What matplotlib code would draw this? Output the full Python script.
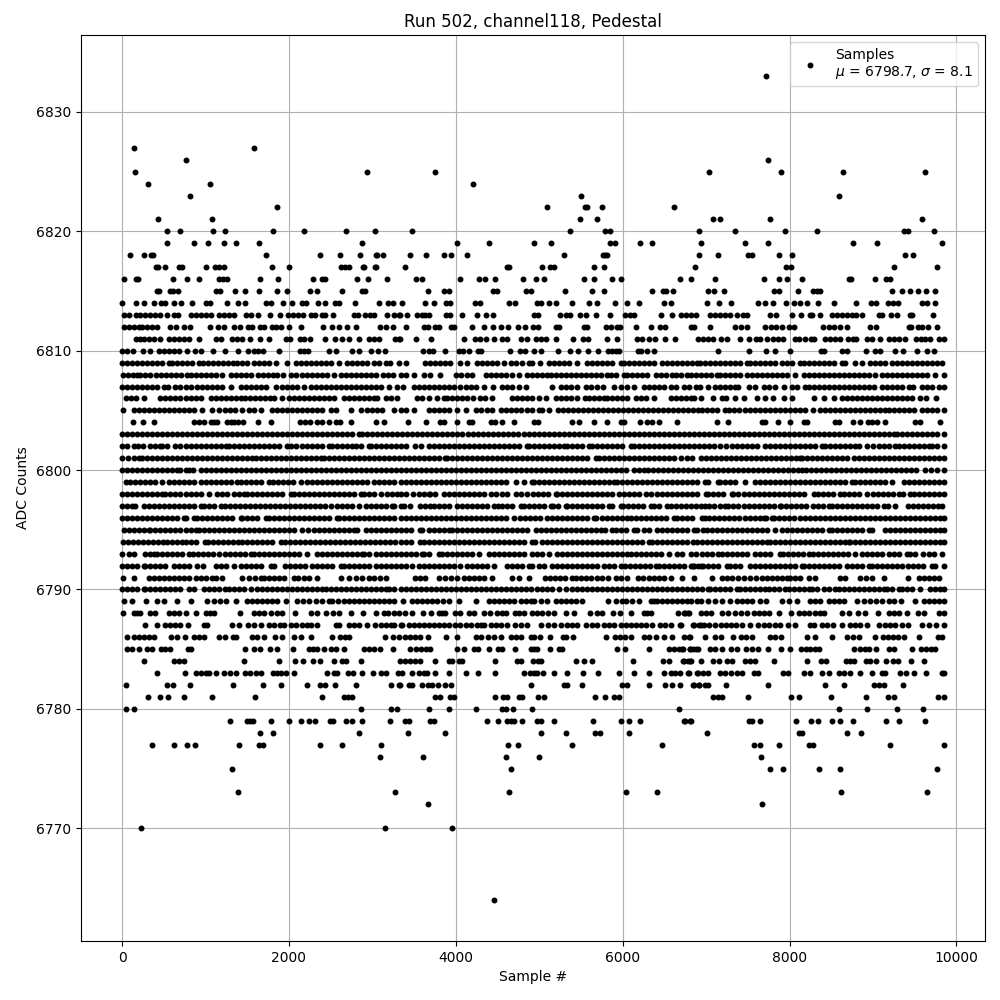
import matplotlib
matplotlib.use("Agg")
import matplotlib.pyplot as plt

# sample numbers, one list per ADC count
high_tail = {
    6833: [7712],
    6827: [140, 1580],
    6826: [764, 7736],
    6825: [152, 2936, 3748, 7040, 7892, 8636, 9620],
    6824: [308, 1052, 4204],
    6823: [812, 5500, 8588],
    6822: [1856, 5092, 5548, 5576, 5752, 6616],
    6821: [428, 1076, 5488, 5692, 7088, 7172, 7760, 9584],
    6820: [536, 692, 1088, 1232, 1808, 2180, 2684, 3032, 3472, 5368, 5788, 5848, 6916, 7352, 7940, 8324, 9368, 9416, 9728],
    6819: [536, 860, 1028, 1220, 1364, 1640, 2876, 4012, 4396, 4936, 5140, 5848, 5908, 6208, 6352, 6944, 7460, 7736, 8756, 9044, 9824],
    6818: [92, 260, 344, 368, 1724, 2372, 2612, 2852, 3044, 3056, 3128, 3448, 3640, 3856, 3940, 4132, 5296, 5764, 5788, 5812, 6916, 7148, 7496, 7544, 7868, 8024, 9380, 9476],
    6817: [404, 428, 512, 680, 716, 1004, 1112, 1160, 1220, 1796, 2000, 2624, 2672, 2720, 2888, 2900, 3032, 3044, 3388, 4612, 4636, 5032, 5128, 5176, 5656, 5776, 6868, 7952, 8012, 9248, 9764],
    6816: [20, 164, 188, 608, 776, 920, 1160, 1208, 1256, 1652, 1868, 2288, 2396, 2432, 2816, 2948, 3176, 3520, 3592, 4048, 4276, 4348, 4468, 4804, 4960, 5056, 5536, 5656, 5872, 5980, 6688, 6820, 7112, 7688, 7868, 7964, 8144, 8708, 8732, 9020, 9152, 9200],
    6815: [416, 440, 572, 608, 668, 1124, 1172, 1352, 1472, 1640, 1856, 1976, 2252, 2336, 2636, 2876, 2912, 3664, 3856, 3916, 4444, 4492, 4840, 4900, 5308, 5632, 5776, 6352, 6484, 6520, 6604, 7028, 7100, 7220, 7808, 7868, 8096, 8276, 8324, 8360, 9224, 9344, 9440, 9536, 9632, 9740],
    6814: [0, 164, 260, 380, 464, 512, 620, 704, 836, 1004, 1052, 1256, 1388, 1472, 1724, 1784, 1928, 2036, 2156, 2204, 2348, 2432, 2552, 2600, 2792, 3080, 3188, 3248, 3356, 3628, 3736, 3880, 3928, 4228, 4288, 4636, 4708, 4972, 5020, 5116, 5200, 5392, 5596, 5692, 5908, 6052, 6196, 6496, 6580, 7016, 7160, 7304, 7616, 7700, 7796, 7952, 8048, 8120, 8204, 8336, 8528, 8792, 8972, 9032, 9176, 9236, 9296, 9584, 9644, 9740],
    6813: [20, 80, 164, 220, 280, 340, 400, 460, 536, 620, 668, 824, 880, 940, 1000, 1060, 1160, 1220, 1280, 1340, 1484, 1544, 1628, 1772, 1892, 1988, 2048, 2108, 2168, 2264, 2312, 2396, 2432, 2528, 2780, 2828, 2912, 2972, 3020, 3176, 3260, 3320, 3336, 3416, 3532, 3596, 3636, 3676, 3880, 3928, 4072, 4252, 4360, 4444, 4936, 4984, 5248, 5320, 5368, 5488, 5560, 5680, 5848, 6028, 6088, 6136, 6460, 6592, 6700, 6760, 6820, 6880, 7048, 7108, 7168, 7228, 7288, 7376, 7436, 7488, 7760, 7832, 8024, 8132, 8240, 8264, 8360, 8504, 8564, 8624, 8684, 8744, 8792, 8864, 9068, 9104, 9212, 9284, 9440, 9464, 9716],
    6812: [20, 80, 140, 200, 240, 300, 360, 416, 572, 644, 740, 812, 1052, 1148, 1220, 1340, 1412, 1508, 1556, 1652, 1700, 1796, 1844, 1904, 2000, 2144, 2408, 2516, 2600, 2700, 2804, 3092, 3164, 3248, 3400, 3616, 3664, 3748, 3796, 3940, 3976, 4192, 4336, 4444, 4536, 4624, 4744, 4828, 4924, 4984, 5200, 5236, 5536, 5572, 5800, 5860, 5932, 5968, 6160, 6340, 6448, 6508, 6820, 6856, 7052, 7352, 7424, 7484, 7700, 7772, 7832, 7904, 7988, 8048, 8396, 8468, 8528, 8600, 8684, 8960, 9032, 9428, 9452, 9536, 9584, 9656, 9764],
    6811: [164, 220, 260, 320, 380, 460, 560, 620, 680, 740, 800, 920, 1124, 1184, 1316, 1380, 1440, 1532, 1652, 1760, 1964, 2012, 2132, 2180, 2252, 2432, 2552, 2636, 2720, 2840, 2960, 3020, 3080, 3272, 3320, 3336, 3520, 3700, 4096, 4228, 4288, 4360, 4456, 4552, 4612, 4780, 4852, 4960, 5016, 5080, 5200, 5404, 5524, 5584, 5812, 5932, 6172, 6236, 6316, 6388, 6508, 6632, 6904, 6968, 7028, 7088, 7176, 7256, 7412, 7508, 7592, 7640, 7724, 7796, 7856, 7916, 8060, 8108, 8180, 8252, 8288, 8420, 8480, 8540, 8600, 8696, 8756, 8792, 8924, 8984, 9088, 9188, 9248, 9308, 9388, 9512, 9576, 9628, 9688, 9788, 9848],
    6810: [0, 60, 128, 248, 332, 440, 500, 560, 620, 680, 776, 872, 944, 1088, 1232, 1388, 1508, 1580, 1628, 1688, 1880, 2132, 2180, 2228, 2480, 2564, 2756, 2840, 2984, 3068, 3152, 3604, 3676, 3724, 3868, 4036, 4084, 4156, 4264, 4300, 4648, 4768, 4828, 4936, 5020, 5224, 5368, 5464, 5584, 5704, 5824, 5872, 5920, 5956, 6184, 6220, 6292, 6376, 7148, 7508, 7712, 7820, 8000, 8372, 8408, 8624, 8684, 8912, 9020, 9088, 9260, 9356, 9524, 9644, 9728],
}

level_6809 = [0, 60, 120, 180, 240, 300, 360, 420, 476, 560, 600, 660, 720, 780, 840, 920, 972, 1030, 1090, 1150, 1210, 1270, 1330, 1380, 1440, 1500, 1580, 1640, 1700, 1760, 1840, 1980, 2080, 2140, 2200, 2260, 2320, 2380, 2440, 2500, 2600, 2700, 2760, 2820, 2880, 2940, 3020, 3080, 3160, 3212, 3320, 3400, 3636, 3696, 3756, 3816, 3876, 3936, 4056, 4136, 4256, 4316, 4376, 4436, 4496, 4576, 4656, 4716, 4796, 4880, 4916, 5008, 5116, 5176, 5236, 5296, 5356, 5456, 5576, 5636, 5696, 5756, 5816, 5876, 5976, 6016, 6076, 6136, 6196, 6256, 6316, 6376, 6476, 6536, 6596, 6656, 6716, 6776, 6836, 6888, 6928, 6988, 7048, 7108, 7168, 7228, 7288, 7348, 7408, 7488, 7528, 7588, 7648, 7708, 7768, 7828, 7908, 7968, 8028, 8128, 8168, 8228, 8288, 8348, 8408, 8468, 8528, 8628, 8668, 8788, 8868, 8968, 9028, 9088, 9148, 9228, 9288, 9348, 9408, 9468, 9528, 9588, 9648, 9708, 9768, 9828]
level_6808 = [12, 72, 132, 180, 220, 280, 340, 412, 472, 532, 592, 652, 712, 780, 820, 880, 940, 1000, 1060, 1120, 1200, 1300, 1360, 1420, 1480, 1540, 1628, 1688, 1748, 1808, 1860, 1932, 2020, 2080, 2160, 2220, 2280, 2340, 2400, 2460, 2540, 2620, 2680, 2740, 2800, 2860, 2920, 2980, 3040, 3132, 3192, 3252, 3340, 3400, 3496, 3616, 3696, 3808, 4008, 4068, 4128, 4196, 4356, 4416, 4476, 4536, 4596, 4676, 4756, 4856, 4916, 4976, 5036, 5096, 5144, 5196, 5256, 5316, 5376, 5436, 5496, 5556, 5616, 5676, 5736, 5816, 5864, 5924, 6016, 6056, 6116, 6176, 6236, 6296, 6396, 6464, 6524, 6596, 6636, 6696, 6776, 6816, 6876, 6936, 6996, 7056, 7128, 7168, 7228, 7288, 7348, 7408, 7488, 7548, 7608, 7668, 7728, 7788, 7848, 7908, 7968, 8068, 8168, 8228, 8288, 8348, 8408, 8468, 8528, 8588, 8648, 8708, 8768, 8828, 8888, 8948, 9028, 9108, 9168, 9228, 9288, 9348, 9408, 9468, 9528, 9588, 9648, 9748, 9848]
level_6807 = [0, 60, 120, 180, 240, 300, 360, 420, 500, 552, 640, 700, 760, 820, 900, 960, 1020, 1080, 1140, 1200, 1300, 1428, 1488, 1548, 1608, 1668, 1728, 1840, 1920, 1980, 2040, 2100, 2180, 2260, 2320, 2380, 2440, 2500, 2560, 2620, 2680, 2740, 2800, 2860, 2920, 2980, 3040, 3100, 3200, 3300, 3368, 3496, 3556, 3616, 3676, 3736, 3796, 3856, 3916, 3976, 4056, 4116, 4176, 4236, 4336, 4448, 4556, 4616, 4676, 4756, 4836, 5156, 5256, 5316, 5376, 5456, 5556, 5616, 5696, 5768, 5896, 5976, 6056, 6136, 6256, 6316, 6376, 6436, 6496, 6576, 6636, 6736, 6796, 6876, 6928, 7028, 7108, 7168, 7228, 7288, 7348, 7388, 7508, 7588, 7688, 7748, 7828, 7928, 8028, 8088, 8188, 8228, 8288, 8348, 8408, 8468, 8528, 8588, 8648, 8708, 8768, 8828, 8888, 8948, 9008, 9108, 9168, 9228, 9288, 9348, 9428, 9480, 9588, 9648, 9708, 9788, 9850]
level_6806 = [52, 112, 172, 260, 460, 520, 580, 640, 700, 760, 820, 880, 940, 1060, 1120, 1180, 1240, 1300, 1360, 1420, 1468, 1528, 1588, 1648, 1708, 1768, 1820, 1920, 2000, 2060, 2120, 2180, 2240, 2300, 2360, 2420, 2480, 2540, 2660, 2720, 2780, 2840, 2900, 2960, 3020, 3060, 3160, 3220, 3292, 3536, 3596, 3676, 3776, 3856, 3896, 3956, 4016, 4076, 4136, 4208, 4288, 4348, 4436, 4676, 4736, 4796, 4856, 4908, 4996, 5076, 5196, 5256, 5316, 5376, 5456, 5544, 5596, 5656, 5716, 5776, 5816, 5876, 5936, 5996, 6056, 6156, 6216, 6276, 6376, 6576, 6636, 6696, 6756, 6816, 6856, 6936, 7088, 7188, 7240, 7348, 7448, 7608, 7708, 7800, 7928, 8028, 8288, 8416, 8528, 8628, 8688, 8748, 8808, 8868, 8928, 8988, 9048, 9108, 9168, 9228, 9288, 9348, 9408, 9468, 9568, 9640, 9752]
level_6805 = [8, 140, 200, 260, 320, 380, 440, 500, 560, 620, 680, 740, 800, 860, 960, 1080, 1160, 1228, 1288, 1348, 1440, 1520, 1580, 1660, 1800, 1860, 1920, 1980, 2040, 2100, 2160, 2220, 2280, 2340, 2400, 2500, 2568, 2748, 2860, 2940, 3000, 3060, 3120, 3260, 3340, 3400, 3496, 3676, 3736, 3796, 3856, 3916, 4016, 4116, 4236, 4296, 4376, 4436, 4536, 4596, 4656, 4716, 4776, 4856, 4916, 4996, 5036, 5116, 5224, 5284, 5344, 5404, 5464, 5524, 5584, 5644, 5704, 5764, 5824, 5884, 5944, 6004, 6064, 6124, 6184, 6244, 6304, 6364, 6424, 6484, 6544, 6604, 6664, 6724, 6784, 6844, 6904, 6948, 7008, 7068, 7128, 7228, 7280, 7340, 7400, 7460, 7528, 7588, 7648, 7708, 7768, 7828, 7888, 7948, 8008, 8068, 8128, 8188, 8276, 8360, 8420, 8480, 8540, 8600, 8660, 8720, 8780, 8840, 8900, 8960, 9020, 9080, 9140, 9188, 9248, 9308, 9368, 9428, 9488, 9588, 9648, 9708, 9768, 9850]
level_6804 = [128, 248, 380, 860, 920, 980, 1060, 1100, 1140, 1260, 1300, 1340, 1388, 1452, 1628, 1784, 2132, 2190, 2250, 2340, 2400, 2480, 2560, 2612, 2740, 3040, 3140, 3424, 3640, 3816, 3856, 4012, 4156, 4196, 4416, 4464, 4556, 4696, 4936, 4984, 5396, 5476, 5656, 5812, 5976, 6016, 6208, 6288, 6356, 6436, 6652, 7136, 7268, 7668, 7708, 7856, 8000, 8168, 8208, 8548, 8592, 8756, 8840, 8936, 8988, 9048, 9140, 9500, 9560, 9800]
level_6803 = [0, 60, 120, 180, 240, 300, 360, 420, 480, 540, 600, 660, 720, 780, 840, 900, 960, 1020, 1080, 1140, 1200, 1260, 1320, 1380, 1440, 1500, 1560, 1620, 1680, 1740, 1800, 1860, 1920, 1980, 2040, 2100, 2160, 2220, 2280, 2340, 2400, 2460, 2520, 2580, 2640, 2700, 2760, 2840, 2880, 2940, 3000, 3060, 3120, 3180, 3240, 3300, 3360, 3420, 3480, 3540, 3600, 3660, 3720, 3780, 3840, 3900, 3960, 4020, 4080, 4140, 4200, 4260, 4320, 4380, 4440, 4500, 4560, 4620, 4680, 4740, 4816, 4876, 4936, 4996, 5056, 5116, 5176, 5236, 5296, 5356, 5416, 5476, 5536, 5596, 5656, 5716, 5776, 5836, 5896, 5956, 6016, 6076, 6136, 6196, 6256, 6316, 6376, 6436, 6496, 6556, 6616, 6676, 6736, 6796, 6856, 6916, 6976, 7036, 7096, 7156, 7216, 7276, 7336, 7396, 7456, 7516, 7576, 7636, 7696, 7756, 7816, 7876, 7936, 7996, 8056, 8116, 8176, 8236, 8296, 8356, 8416, 8476, 8536, 8596, 8656, 8716, 8776, 8836, 8896, 8956, 9016, 9076, 9136, 9196, 9248, 9288, 9348, 9408, 9468, 9528, 9588, 9648, 9708, 9768, 9850]
level_6802 = [0, 60, 140, 188, 252, 340, 400, 452, 480, 540, 640, 700, 760, 820, 880, 940, 1000, 1060, 1120, 1180, 1240, 1280, 1340, 1400, 1460, 1520, 1580, 1640, 1700, 1760, 1820, 1880, 1980, 2020, 2080, 2160, 2220, 2280, 2340, 2400, 2480, 2520, 2580, 2640, 2700, 2760, 2800, 2860, 2960, 2988, 3048, 3108, 3168, 3228, 3288, 3340, 3400, 3516, 3584, 3676, 3736, 3796, 3856, 3916, 3976, 4036, 4096, 4156, 4216, 4276, 4336, 4396, 4456, 4516, 4576, 4636, 4696, 4756, 4856, 4876, 4936, 4996, 5056, 5116, 5176, 5236, 5296, 5328, 5396, 5456, 5516, 5596, 5636, 5696, 5756, 5816, 5876, 5936, 5996, 6096, 6136, 6196, 6256, 6316, 6376, 6436, 6496, 6556, 6616, 6676, 6736, 6796, 6856, 6916, 6976, 7036, 7096, 7168, 7240, 7308, 7368, 7428, 7488, 7548, 7608, 7708, 7768, 7828, 7888, 7948, 8008, 8068, 8128, 8188, 8248, 8308, 8388, 8420, 8480, 8540, 8600, 8660, 8720, 8788, 8828, 8928, 8996, 9068, 9128, 9188, 9268, 9308, 9368, 9428, 9488, 9548, 9608, 9668, 9708, 9768, 9848]
level_6801 = [0, 68, 140, 200, 240, 300, 360, 420, 480, 540, 600, 660, 720, 780, 840, 900, 960, 1020, 1080, 1140, 1200, 1260, 1320, 1380, 1440, 1500, 1560, 1600, 1660, 1720, 1780, 1840, 1900, 1960, 2020, 2080, 2140, 2200, 2260, 2320, 2380, 2420, 2480, 2540, 2600, 2660, 2720, 2780, 2840, 2900, 2960, 3020, 3080, 3140, 3200, 3260, 3320, 3380, 3440, 3500, 3560, 3620, 3680, 3740, 3800, 3876, 3896, 3956, 4016, 4076, 4136, 4196, 4256, 4316, 4376, 4436, 4496, 4556, 4616, 4676, 4736, 4796, 4856, 4916, 4976, 5036, 5096, 5156, 5216, 5276, 5336, 5396, 5456, 5516, 5576, 5676, 5716, 5776, 5836, 5896, 5956, 6016, 6076, 6136, 6196, 6256, 6316, 6376, 6436, 6496, 6556, 6616, 6696, 6776, 6836, 6936, 6996, 7056, 7116, 7176, 7236, 7296, 7356, 7416, 7476, 7536, 7596, 7656, 7716, 7776, 7836, 7896, 7956, 8016, 8076, 8128, 8148, 8208, 8268, 8328, 8388, 8448, 8508, 8568, 8628, 8688, 8768, 8828, 8888, 8948, 9008, 9068, 9128, 9188, 9248, 9308, 9368, 9428, 9488, 9548, 9608, 9668, 9728, 9788, 9850]
level_6800 = [0, 60, 120, 180, 240, 300, 360, 420, 480, 540, 600, 660, 700, 760, 800, 852, 940, 1000, 1060, 1120, 1180, 1240, 1300, 1360, 1420, 1480, 1540, 1600, 1660, 1720, 1780, 1840, 1900, 1960, 2020, 2080, 2140, 2200, 2260, 2320, 2380, 2440, 2500, 2560, 2620, 2680, 2740, 2800, 2860, 2920, 2980, 3040, 3100, 3160, 3220, 3280, 3340, 3400, 3460, 3520, 3580, 3640, 3700, 3760, 3820, 3880, 3940, 4000, 4060, 4120, 4180, 4240, 4300, 4360, 4420, 4480, 4540, 4600, 4660, 4720, 4780, 4840, 4900, 4960, 5020, 5080, 5140, 5200, 5260, 5320, 5380, 5440, 5500, 5560, 5620, 5680, 5740, 5800, 5860, 5920, 5980, 6040, 6136, 6196, 6256, 6304, 6364, 6424, 6484, 6544, 6604, 6664, 6724, 6784, 6844, 6904, 6964, 7024, 7084, 7144, 7204, 7264, 7324, 7384, 7444, 7504, 7564, 7624, 7684, 7744, 7804, 7864, 7924, 7984, 8044, 8104, 8148, 8200, 8260, 8320, 8380, 8440, 8500, 8560, 8620, 8680, 8740, 8800, 8860, 8920, 8980, 9040, 9100, 9160, 9220, 9280, 9340, 9400, 9460, 9520, 9628, 9696, 9768, 9850]
level_6799 = [48, 100, 160, 220, 280, 332, 392, 480, 560, 620, 680, 740, 800, 860, 940, 1000, 1060, 1120, 1180, 1240, 1300, 1380, 1420, 1480, 1540, 1600, 1660, 1760, 1812, 1872, 1932, 1992, 2052, 2140, 2212, 2272, 2332, 2392, 2452, 2512, 2572, 2632, 2692, 2752, 2812, 2872, 2932, 3020, 3080, 3140, 3200, 3260, 3340, 3400, 3460, 3520, 3580, 3640, 3700, 3760, 3820, 3880, 3940, 4000, 4060, 4120, 4180, 4240, 4300, 4360, 4420, 4480, 4540, 4600, 4716, 4816, 4916, 4936, 4996, 5056, 5116, 5176, 5236, 5296, 5356, 5416, 5476, 5536, 5596, 5656, 5716, 5776, 5836, 5896, 5936, 5996, 6056, 6116, 6176, 6236, 6296, 6356, 6416, 6476, 6536, 6596, 6656, 6716, 6776, 6836, 6896, 6988, 7028, 7148, 7168, 7228, 7288, 7348, 7468, 7588, 7648, 7708, 7768, 7828, 7888, 7948, 8008, 8068, 8128, 8188, 8248, 8308, 8368, 8428, 8488, 8548, 8608, 8668, 8748, 8788, 8848, 8908, 8968, 9028, 9088, 9148, 9228, 9368, 9428, 9488, 9548, 9608, 9668, 9728, 9788, 9848]
level_6798 = [0, 60, 120, 180, 240, 300, 360, 420, 480, 520, 580, 640, 700, 760, 820, 880, 940, 1040, 1140, 1200, 1260, 1340, 1400, 1460, 1500, 1560, 1620, 1680, 1740, 1800, 1860, 1920, 2020, 2060, 2120, 2180, 2240, 2300, 2360, 2420, 2480, 2540, 2600, 2660, 2720, 2780, 2860, 2900, 2960, 3020, 3100, 3172, 3232, 3292, 3340, 3400, 3488, 3556, 3616, 3676, 3696, 3756, 3856, 3916, 3976, 4036, 4096, 4156, 4216, 4276, 4336, 4416, 4476, 4556, 4608, 4716, 4776, 4848, 4928, 4988, 5048, 5108, 5196, 5216, 5276, 5336, 5396, 5456, 5516, 5576, 5636, 5696, 5756, 5816, 5876, 5956, 6016, 6076, 6136, 6196, 6276, 6336, 6416, 6476, 6536, 6596, 6656, 6716, 6776, 6836, 6896, 7000, 7028, 7088, 7148, 7208, 7308, 7328, 7388, 7448, 7508, 7568, 7628, 7688, 7748, 7808, 7868, 7928, 7988, 8048, 8108, 8168, 8288, 8336, 8396, 8456, 8516, 8608, 8648, 8708, 8768, 8828, 8928, 9000, 9060, 9120, 9180, 9240, 9308, 9360, 9448, 9488, 9548, 9608, 9668, 9728, 9788, 9850]
level_6797 = [0, 60, 120, 160, 260, 320, 380, 440, 500, 560, 620, 680, 740, 800, 860, 940, 980, 1040, 1100, 1180, 1228, 1288, 1348, 1408, 1468, 1528, 1588, 1648, 1708, 1768, 1828, 1888, 1948, 2008, 2068, 2128, 2188, 2248, 2308, 2368, 2428, 2500, 2580, 2640, 2700, 2760, 2840, 2920, 2980, 3040, 3100, 3160, 3240, 3260, 3340, 3376, 3456, 3576, 3636, 3696, 3736, 3796, 3856, 3916, 4016, 4076, 4136, 4196, 4256, 4316, 4376, 4456, 4508, 4556, 4616, 4676, 4776, 4816, 4876, 4936, 4996, 5056, 5136, 5164, 5224, 5316, 5336, 5396, 5456, 5516, 5576, 5636, 5696, 5756, 5836, 5876, 5976, 6008, 6068, 6128, 6188, 6248, 6336, 6376, 6436, 6536, 6576, 6636, 6696, 6756, 6816, 6876, 6936, 6988, 7040, 7100, 7168, 7228, 7268, 7328, 7388, 7448, 7508, 7568, 7628, 7688, 7748, 7808, 7880, 7900, 7960, 8020, 8080, 8140, 8200, 8280, 8336, 8396, 8468, 8508, 8568, 8628, 8688, 8748, 8808, 8868, 8928, 8988, 9048, 9128, 9176, 9268, 9416, 9476, 9536, 9596, 9656, 9716, 9776, 9828]
level_6796 = [0, 60, 120, 180, 240, 300, 360, 420, 480, 540, 600, 660, 740, 770, 860, 900, 960, 1020, 1080, 1140, 1200, 1260, 1320, 1420, 1440, 1500, 1560, 1620, 1720, 1760, 1820, 1880, 1940, 2000, 2060, 2120, 2180, 2240, 2300, 2360, 2420, 2480, 2572, 2600, 2660, 2720, 2780, 2840, 2900, 2960, 3020, 3080, 3140, 3200, 3260, 3340, 3400, 3460, 3520, 3580, 3640, 3700, 3760, 3820, 3880, 3940, 4000, 4060, 4120, 4180, 4240, 4300, 4360, 4420, 4480, 4540, 4600, 4696, 4768, 4828, 4888, 4948, 5008, 5096, 5156, 5216, 5276, 5336, 5396, 5456, 5516, 5576, 5656, 5684, 5756, 5816, 5876, 5936, 5996, 6056, 6096, 6156, 6216, 6276, 6336, 6396, 6456, 6516, 6616, 6656, 6716, 6776, 6836, 6948, 6988, 7040, 7100, 7160, 7220, 7280, 7340, 7400, 7460, 7520, 7580, 7640, 7688, 7720, 7788, 7816, 7876, 7936, 7996, 8056, 8128, 8180, 8240, 8300, 8360, 8420, 8480, 8540, 8600, 8660, 8720, 8780, 8840, 8900, 8960, 9020, 9080, 9140, 9200, 9260, 9320, 9380, 9440, 9500, 9560, 9620, 9680, 9740, 9800, 9850]
level_6795 = [28, 88, 148, 208, 268, 320, 340, 400, 460, 520, 580, 640, 700, 760, 820, 890, 920, 980, 1040, 1100, 1160, 1220, 1280, 1340, 1400, 1460, 1520, 1580, 1640, 1700, 1760, 1820, 1880, 1940, 2000, 2060, 2160, 2228, 2300, 2360, 2420, 2480, 2540, 2600, 2660, 2720, 2780, 2816, 2920, 2980, 3040, 3100, 3160, 3220, 3280, 3340, 3400, 3460, 3576, 3596, 3676, 3736, 3796, 3856, 3916, 3956, 4016, 4076, 4136, 4196, 4256, 4316, 4376, 4436, 4496, 4556, 4616, 4676, 4736, 4796, 4856, 4956, 5016, 5076, 5136, 5196, 5256, 5316, 5376, 5436, 5496, 5556, 5616, 5676, 5736, 5784, 5876, 5916, 5976, 6036, 6136, 6176, 6256, 6316, 6416, 6476, 6536, 6596, 6656, 6716, 6776, 6856, 6896, 6968, 7008, 7068, 7128, 7188, 7248, 7308, 7368, 7428, 7488, 7548, 7608, 7668, 7728, 7828, 7908, 7968, 8028, 8088, 8148, 8208, 8268, 8328, 8388, 8468, 8508, 8568, 8628, 8688, 8748, 8808, 8868, 8948, 8988, 9148, 9208, 9268, 9328, 9388, 9448, 9508, 9568, 9628, 9688, 9748, 9808, 9850]
level_6794 = [12, 72, 132, 192, 252, 312, 372, 432, 492, 540, 600, 660, 720, 770, 830, 890, 990, 1028, 1088, 1148, 1208, 1268, 1328, 1388, 1440, 1500, 1560, 1620, 1680, 1740, 1800, 1900, 1948, 2008, 2068, 2128, 2188, 2248, 2308, 2368, 2428, 2488, 2548, 2608, 2668, 2728, 2788, 2848, 2908, 2968, 3028, 3088, 3148, 3208, 3268, 3340, 3400, 3460, 3576, 3616, 3676, 3736, 3796, 3856, 3916, 3976, 4036, 4096, 4156, 4216, 4276, 4336, 4396, 4456, 4516, 4576, 4636, 4696, 4756, 4816, 4916, 4948, 5036, 5096, 5156, 5216, 5276, 5336, 5396, 5456, 5516, 5576, 5636, 5696, 5756, 5816, 5876, 5936, 5996, 6056, 6116, 6176, 6236, 6316, 6356, 6416, 6476, 6536, 6596, 6656, 6716, 6776, 6848, 6888, 6948, 7008, 7068, 7128, 7188, 7248, 7308, 7368, 7428, 7488, 7548, 7608, 7668, 7728, 7760, 7820, 7880, 7940, 8000, 8060, 8120, 8180, 8240, 8300, 8360, 8420, 8480, 8540, 8600, 8660, 8708, 8728, 8788, 8848, 8908, 8968, 9028, 9088, 9148, 9208, 9268, 9328, 9388, 9448, 9508, 9568, 9628, 9688, 9748, 9808, 9850]
level_6793 = [0, 80, 140, 280, 340, 380, 420, 480, 540, 600, 660, 720, 800, 852, 912, 972, 1032, 1092, 1160, 1228, 1288, 1348, 1408, 1468, 1540, 1580, 1640, 1700, 1760, 1820, 1880, 1940, 2000, 2060, 2120, 2220, 2332, 2392, 2452, 2512, 2572, 2632, 2692, 2752, 2812, 2880, 2900, 2960, 3040, 3100, 3160, 3220, 3280, 3340, 3400, 3460, 3520, 3596, 3616, 3676, 3796, 3836, 3896, 3956, 4016, 4076, 4136, 4196, 4276, 4396, 4456, 4516, 4576, 4636, 4696, 4756, 4816, 4916, 4976, 5036, 5116, 5216, 5276, 5336, 5396, 5456, 5516, 5576, 5636, 5696, 5756, 5816, 5876, 5936, 5996, 6056, 6096, 6156, 6216, 6276, 6336, 6396, 6456, 6556, 6656, 6716, 6816, 6876, 6948, 7008, 7068, 7148, 7188, 7248, 7308, 7368, 7428, 7488, 7588, 7648, 7708, 7768, 7888, 7920, 7980, 8040, 8100, 8160, 8228, 8276, 8336, 8396, 8456, 8516, 8576, 8636, 8696, 8788, 8868, 8928, 8988, 9048, 9108, 9188, 9248, 9308, 9408, 9448, 9508, 9600, 9668, 9728, 9828]
level_6792 = [0, 60, 120, 180, 260, 280, 340, 400, 460, 520, 620, 680, 740, 800, 900, 972, 1120, 1180, 1240, 1340, 1428, 1488, 1548, 1608, 1668, 1780, 1820, 1948, 2008, 2068, 2128, 2188, 2280, 2340, 2400, 2460, 2520, 2620, 2660, 2720, 2780, 2840, 2900, 2960, 3040, 3100, 3160, 3220, 3280, 3340, 3400, 3476, 3556, 3616, 3676, 3736, 3796, 3856, 3916, 3976, 4056, 4136, 4196, 4256, 4316, 4376, 4456, 4608, 4668, 4728, 4788, 4876, 4916, 4996, 5056, 5156, 5216, 5276, 5336, 5396, 5456, 5516, 5576, 5636, 5696, 5776, 5836, 5896, 5976, 6024, 6084, 6144, 6204, 6264, 6324, 6396, 6436, 6496, 6556, 6616, 6676, 6736, 6816, 6856, 6936, 6848, 6908, 6968, 7028, 7088, 7148, 7248, 7288, 7348, 7408, 7528, 7588, 7648, 7708, 7768, 7828, 7888, 7948, 8008, 8068, 8148, 8168, 8228, 8288, 8348, 8408, 8468, 8528, 8588, 8688, 8752, 8808, 8868, 8948, 8988, 9048, 9108, 9168, 9228, 9288, 9348, 9416, 9476, 9536, 9596, 9708, 9748, 9848]
level_6791 = [12, 140, 320, 380, 440, 500, 560, 620, 680, 740, 800, 880, 940, 1000, 1080, 1120, 1200, 1440, 1520, 1590, 1660, 1700, 1760, 1820, 1880, 1940, 2060, 2108, 2180, 2240, 2340, 2620, 2720, 2800, 2880, 2960, 3020, 3090, 3160, 3516, 3576, 3636, 3796, 3876, 3940, 4016, 4096, 4156, 4216, 4276, 4336, 4436, 4676, 4756, 4876, 5064, 5124, 5184, 5244, 5304, 5396, 5436, 5496, 5556, 5616, 5696, 5756, 5820, 5916, 5976, 6056, 6184, 6244, 6316, 6376, 6436, 6500, 6576, 6716, 6856, 7068, 7188, 7248, 7308, 7388, 7448, 7520, 7600, 7668, 7728, 7788, 7848, 7908, 7968, 8008, 8060, 8120, 8228, 8300, 8608, 8668, 8840, 8920, 8988, 9128, 9416, 9548, 9608, 9668, 9728, 9788]
level_6790 = [0, 60, 120, 180, 260, 280, 340, 400, 460, 520, 580, 640, 700, 800, 860, 980, 1040, 1100, 1160, 1228, 1280, 1340, 1400, 1460, 1540, 1612, 1672, 1732, 1792, 1852, 1912, 1972, 2032, 2092, 2152, 2212, 2272, 2332, 2400, 2440, 2500, 2560, 2620, 2680, 2740, 2800, 2860, 2920, 2980, 3040, 3100, 3160, 3200, 3260, 3340, 3400, 3460, 3520, 3580, 3640, 3700, 3760, 3820, 3880, 3940, 4000, 4060, 4120, 4180, 4240, 4300, 4360, 4420, 4480, 4540, 4600, 4656, 4716, 4776, 4836, 4896, 4976, 5036, 5096, 5156, 5236, 5316, 5396, 5456, 5516, 5576, 5636, 5696, 5756, 5816, 5876, 5936, 5996, 6056, 6116, 6176, 6236, 6296, 6356, 6416, 6476, 6536, 6596, 6656, 6716, 6776, 6836, 6896, 6956, 7028, 7048, 7108, 7168, 7228, 7288, 7368, 7408, 7468, 7528, 7588, 7648, 7708, 7748, 7808, 7868, 7948, 7988, 8048, 8108, 8168, 8228, 8268, 8328, 8416, 8468, 8548, 8588, 8648, 8708, 8768, 8828, 8888, 8948, 9008, 9068, 9128, 9168, 9228, 9308, 9348, 9408, 9468, 9568, 9680, 9740, 9800, 9850]
level_6789 = [28, 120, 292, 420, 500, 660, 820, 1020, 1100, 1172, 1240, 1360, 1500, 1560, 1620, 1680, 1740, 1800, 1860, 1960, 2100, 2170, 2240, 2320, 2400, 2480, 2520, 2590, 2660, 2720, 2780, 2840, 2900, 2960, 3020, 3080, 3140, 3200, 3260, 3368, 3476, 3536, 3596, 3656, 3716, 3776, 3850, 3916, 4036, 4240, 4396, 4456, 4516, 4576, 4636, 4696, 4776, 4836, 4896, 4936, 5016, 5096, 5196, 5256, 5316, 5376, 5436, 5516, 5824, 5916, 5996, 6036, 6116, 6196, 6336, 6376, 6416, 6476, 6536, 6596, 6656, 6716, 6776, 6816, 6896, 6936, 7028, 7108, 7188, 7288, 7368, 7428, 7488, 7548, 7648, 7720, 7908, 7988, 8088, 8248, 8308, 8368, 8468, 8528, 8588, 8648, 8808, 8888, 8968, 9040, 9108, 9188, 9248, 9336, 9508, 9608, 9668, 9728, 9788, 9850]

low_tail = {
    6788: [12, 140, 180, 220, 340, 400, 560, 620, 680, 760, 884, 1000, 1050, 1100, 1412, 1580, 1640, 1700, 1780, 1852, 1920, 2072, 2260, 2340, 2444, 2528, 2600, 2744, 2888, 3044, 3140, 3188, 3260, 3320, 3396, 3472, 3604, 3700, 3796, 3836, 3876, 3996, 4056, 4156, 4216, 4336, 4408, 4496, 4556, 4600, 4708, 4760, 4816, 4916, 4976, 5036, 5100, 5176, 5316, 5416, 5608, 5696, 5748, 5884, 5968, 6100, 6256, 6296, 6336, 6664, 6730, 6796, 6748, 6788, 6936, 7000, 7056, 7188, 7268, 7348, 7420, 7488, 7568, 7628, 7688, 7748, 7868, 8012, 8108, 8168, 8228, 8308, 8368, 8408, 8628, 8708, 8816, 8900, 9056, 9188, 9248, 9308, 9408, 9536, 9608, 9788, 9848],
    6787: [272, 416, 520, 580, 640, 700, 788, 980, 1020, 1320, 1400, 1508, 1580, 1660, 1760, 1820, 1892, 1940, 2028, 2090, 2160, 2212, 2260, 2332, 2560, 2600, 2720, 2780, 2840, 2940, 3032, 3108, 3160, 3220, 3260, 3340, 3356, 3436, 3496, 3556, 3616, 3676, 3736, 3796, 3856, 3916, 3996, 4056, 4116, 4176, 4256, 4296, 4336, 4416, 4476, 4536, 4608, 4704, 4776, 4848, 5020, 5104, 5180, 5256, 5336, 5396, 5456, 5556, 5636, 5696, 5776, 5836, 5896, 5976, 6036, 6096, 6156, 6220, 6280, 6356, 6448, 6510, 6576, 6696, 6856, 6936, 6688, 6848, 6910, 6970, 7030, 7108, 7176, 7240, 7300, 7360, 7428, 7528, 7616, 7688, 7750, 7820, 7888, 7976, 8068, 8248, 8288, 8388, 8448, 8516, 8624, 8728, 8790, 8850, 8928, 9068, 9140, 9208, 9268, 9348, 9416, 9588, 9668, 9756, 9848],
    6786: [60, 140, 200, 260, 320, 380, 584, 656, 752, 860, 920, 980, 1160, 1232, 1332, 1360, 1560, 1620, 1700, 1832, 1916, 2060, 2140, 2264, 2516, 2612, 2670, 2720, 3152, 3252, 3320, 3392, 3456, 3516, 3576, 3664, 3880, 4012, 4240, 4296, 4384, 4456, 4536, 4656, 4716, 4776, 4896, 4936, 5004, 5128, 5284, 5324, 5404, 5800, 5908, 5970, 6030, 6096, 6256, 6320, 6396, 6500, 6592, 6736, 6808, 6796, 6992, 7112, 7184, 7328, 7416, 7480, 7548, 7760, 7820, 7892, 8204, 8300, 8504, 8688, 8760, 8828, 9020, 9116, 9180, 9240, 9300, 9368, 9552, 9776, 9828],
    6785: [60, 120, 200, 300, 360, 472, 520, 572, 788, 820, 1472, 1580, 1652, 1772, 1856, 2048, 2240, 2290, 2340, 2420, 2500, 2560, 2660, 2900, 2960, 3020, 3092, 3248, 3456, 3520, 3580, 3640, 3696, 4012, 4096, 4216, 4268, 4396, 4504, 4552, 4708, 4896, 4936, 4976, 5128, 5236, 5276, 5932, 6028, 6316, 6556, 6616, 6676, 6728, 6808, 6876, 6716, 6808, 6848, 6908, 7048, 7108, 7196, 7304, 7376, 7472, 7552, 7616, 7736, 7892, 8008, 8132, 8192, 8248, 8300, 8348, 8768, 8848, 8900, 8948, 9032, 9188, 9248, 9468, 9576, 9640, 9700, 9748],
    6784: [260, 628, 680, 740, 1460, 1880, 2072, 2168, 2288, 2372, 2540, 2640, 2680, 2864, 3336, 3396, 3456, 3516, 3576, 3748, 3916, 3956, 4036, 4076, 4468, 4736, 4784, 4924, 4984, 5024, 5444, 5536, 5632, 6124, 6484, 6556, 6736, 6780, 6816, 6728, 6808, 6944, 7088, 7160, 7248, 7308, 7460, 7520, 7580, 7808, 8204, 8372, 8432, 8672, 8720, 8768, 8920, 8968, 9032, 9152, 9236, 9296, 9452, 9608],
    6783: [416, 752, 880, 940, 1000, 1040, 1124, 1220, 1292, 1360, 1472, 1532, 1600, 1664, 1804, 1860, 1910, 1960, 2060, 2460, 2540, 2580, 2708, 2768, 2876, 3008, 3100, 3160, 3308, 3356, 3476, 3556, 3616, 3656, 3748, 3916, 4120, 4264, 4468, 4816, 4888, 4940, 4976, 5044, 5176, 5332, 5524, 5704, 5956, 6136, 6316, 6496, 6576, 6630, 6688, 6796, 6904, 6788, 6896, 6968, 7028, 7168, 7228, 7304, 7368, 7428, 7568, 7616, 7916, 7976, 8176, 8240, 8384, 8468, 8588, 8648, 8720, 8840, 8984, 9108, 9148, 9328, 9390, 9488, 9632, 9828, 9848],
    6782: [48, 536, 608, 812, 1328, 1688, 1904, 2216, 2372, 2432, 2552, 2804, 3224, 3320, 3336, 3436, 3476, 3592, 3664, 3712, 3784, 3868, 3940, 4900, 5296, 5336, 5512, 5992, 6052, 6316, 6508, 6592, 6688, 6844, 6916, 6852, 6920, 6988, 7028, 7244, 7736, 8420, 8648, 9008, 9068, 9128, 9356],
    6781: [308, 452, 548, 740, 1076, 1592, 2396, 2660, 2710, 2760, 3756, 3816, 3936, 3976, 4468, 4564, 4616, 4756, 4796, 4984, 5056, 5668, 5788, 5896, 5956, 7088, 7140, 7188, 7496, 8012, 8108, 8492, 8912, 9176, 9248, 9776, 9850],
    6780: [48, 140, 2864, 3224, 3296, 3676, 3916, 4240, 4556, 4596, 4684, 4912, 6676, 8588, 8924, 9284, 9596],
    6779: [1292, 1492, 1530, 1572, 1784, 2000, 2144, 2240, 2312, 2492, 2532, 2684, 2756, 2876, 3212, 3396, 3436, 3688, 3736, 4372, 4504, 4616, 4660, 4696, 4792, 4968, 5016, 5176, 5644, 5980, 6076, 6208, 6748, 6820, 6740, 6812, 7508, 7548, 7640, 8072, 8252, 8336, 8504, 8600, 8756, 9152, 9308, 9620],
    6778: [1652, 1808, 2840, 3424, 3868, 5020, 5320, 5668, 5728, 6076, 7016, 8108, 8148, 8684, 8852],
    6777: [356, 620, 776, 872, 1400, 1640, 1688, 2372, 2636, 3104, 4624, 4744, 5392, 6472, 7568, 7640, 7868, 8228, 8276, 9200, 9850],
    6776: [3092, 3604, 4600, 4996, 7652],
    6775: [1316, 4660, 7760, 7916, 8348, 8600, 9764],
    6773: [1388, 3272, 4636, 6040, 6412, 8612, 9644],
    6772: [3664, 7664],
    6770: [224, 3152, 3952],
    6764: [4455],
}

mid_band = {
    6809: level_6809, 6808: level_6808, 6807: level_6807, 6806: level_6806,
    6805: level_6805, 6804: level_6804, 6803: level_6803, 6802: level_6802,
    6801: level_6801, 6800: level_6800, 6799: level_6799, 6798: level_6798,
    6797: level_6797, 6796: level_6796, 6795: level_6795, 6794: level_6794,
    6793: level_6793, 6792: level_6792, 6791: level_6791, 6790: level_6790,
    6789: level_6789,
}

samples = []
counts = []
for band in (high_tail, mid_band, low_tail):
    for level, xs in band.items():
        samples += xs
        counts += [level] * len(xs)

fig, ax = plt.subplots(figsize=(10, 10))
ax.plot(samples, counts, 'k.', markersize=6.5, label="Samples\n$\\mu$ = 6798.7, $\\sigma$ = 8.1")
ax.set_title("Run 502, channel118, Pedestal")
ax.set_xlabel("Sample #")
ax.set_ylabel("ADC Counts")
ax.grid(True)
ax.legend(loc="upper right")
fig.subplots_adjust(left=0.081, right=0.985, top=0.965, bottom=0.059)
fig.savefig("out.png", dpi=100)
